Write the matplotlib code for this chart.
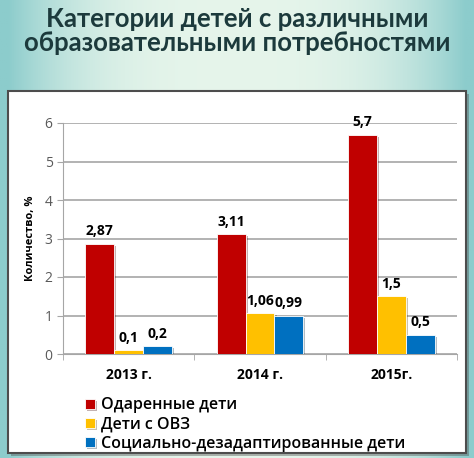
import numpy as np
import matplotlib.pyplot as plt
from matplotlib.patches import Rectangle
import matplotlib.patheffects as pe

plt.rcParams['font.family'] = ['Open Sans', 'DejaVu Sans']

years = ['2013 г.', '2014 г.', '2015г.']
gifted = [2.87, 3.11, 5.7]
ovz = [0.1, 1.06, 1.5]
maladjusted = [0.2, 0.99, 0.5]
series_names = ['Одаренные дети', 'Дети с ОВЗ', 'Социально-дезадаптированные дети']
colors = ['#C00000', '#FFC000', '#0070C0']
title = 'Категории детей с различными\nобразовательными потребностями'

W, H = 474, 458
fig = plt.figure(figsize=(W / 100, H / 100), dpi=100)

# background gradient (light mint centre, teal edges)
bg = fig.add_axes([0, 0, 1, 1])
xx = np.linspace(-1, 1, 200)
yy = np.linspace(0, 1, 200)
X, Y = np.meshgrid(xx, yy)
t = np.clip(np.abs(X) ** 3 * 1.1, 0, 1)
c_mid = np.array([0.90, 0.96, 0.92])
c_edge = np.array([0.55, 0.80, 0.80])
img = c_mid[None, None, :] * (1 - t[..., None]) + c_edge[None, None, :] * t[..., None]
bg.imshow(img, extent=[0, 1, 0, 1], aspect='auto', origin='lower')
bg.set_xlim(0, 1)
bg.set_ylim(0, 1)
bg.axis('off')

# white chart box with shadow
box = Rectangle((8 / W, 1 - 453 / H), (466 - 8) / W, (453 - 91) / H,
                transform=fig.transFigure, facecolor='white',
                edgecolor='#4d4d4d', linewidth=1.5, zorder=1,
                path_effects=[pe.SimplePatchShadow(offset=(2, -2), alpha=0.4), pe.Normal()])
bg.add_patch(box)

fig.text(0.5, 1 - 31 / H, title, ha='center', va='center', fontsize=18.5,
         fontweight='bold', color='#1c3a3c', linespacing=1.0, family='Lato')

ax = fig.add_axes([63 / W, 1 - 354 / H, (457 - 63) / W, (354 - 123) / H])
ax.set_facecolor('none')

x = np.arange(len(years))
w = 0.22
shadow = [pe.SimplePatchShadow(offset=(1.5, -1.5), alpha=0.3), pe.Normal()]
for i, (vals, c, name) in enumerate(zip([gifted, ovz, maladjusted], colors, series_names)):
    bars = ax.bar(x + (i - 1) * w, vals, w, color=c, label=name,
                  edgecolor='white', linewidth=0.6, zorder=3)
    for b in bars:
        b.set_path_effects(shadow)
    ax.bar_label(bars, labels=[str(v).replace('.', ',') for v in vals],
                 padding=4, fontsize=10, fontweight='bold', color='black')

ax.set_xlim(-0.5, 2.5)
ax.set_ylim(0, 6)
ax.set_yticks(range(7))
ax.yaxis.grid(True, color='#a6a6a6', linewidth=1.2, zorder=0)
ax.set_axisbelow(True)
ax.tick_params(axis='y', labelsize=10, labelcolor='#595959', color='#a6a6a6', length=4)
ax.set_xticks(x)
ax.set_xticklabels(years, fontsize=10, fontweight='bold')
ax.set_xticks([-0.5, 0.5, 1.5, 2.5], minor=True)
ax.tick_params(axis='x', which='major', length=0, pad=10)
ax.tick_params(axis='x', which='minor', length=4, color='#a6a6a6')
for s in ['top', 'right']:
    ax.spines[s].set_visible(False)
for s in ['left', 'bottom']:
    ax.spines[s].set_color('#a6a6a6')
ax.set_ylabel('Количество, %', fontsize=8, fontweight='bold', labelpad=6)

fig.legend(loc='upper left', bbox_to_anchor=(79 / W, 1 - 391 / H),
           frameon=False, prop={'size': 11.5, 'weight': 'semibold'},
           handlelength=0.6, handleheight=0.6,
           handletextpad=0.4, labelspacing=0.2, borderaxespad=0)

fig.savefig('out.png', dpi=100)
